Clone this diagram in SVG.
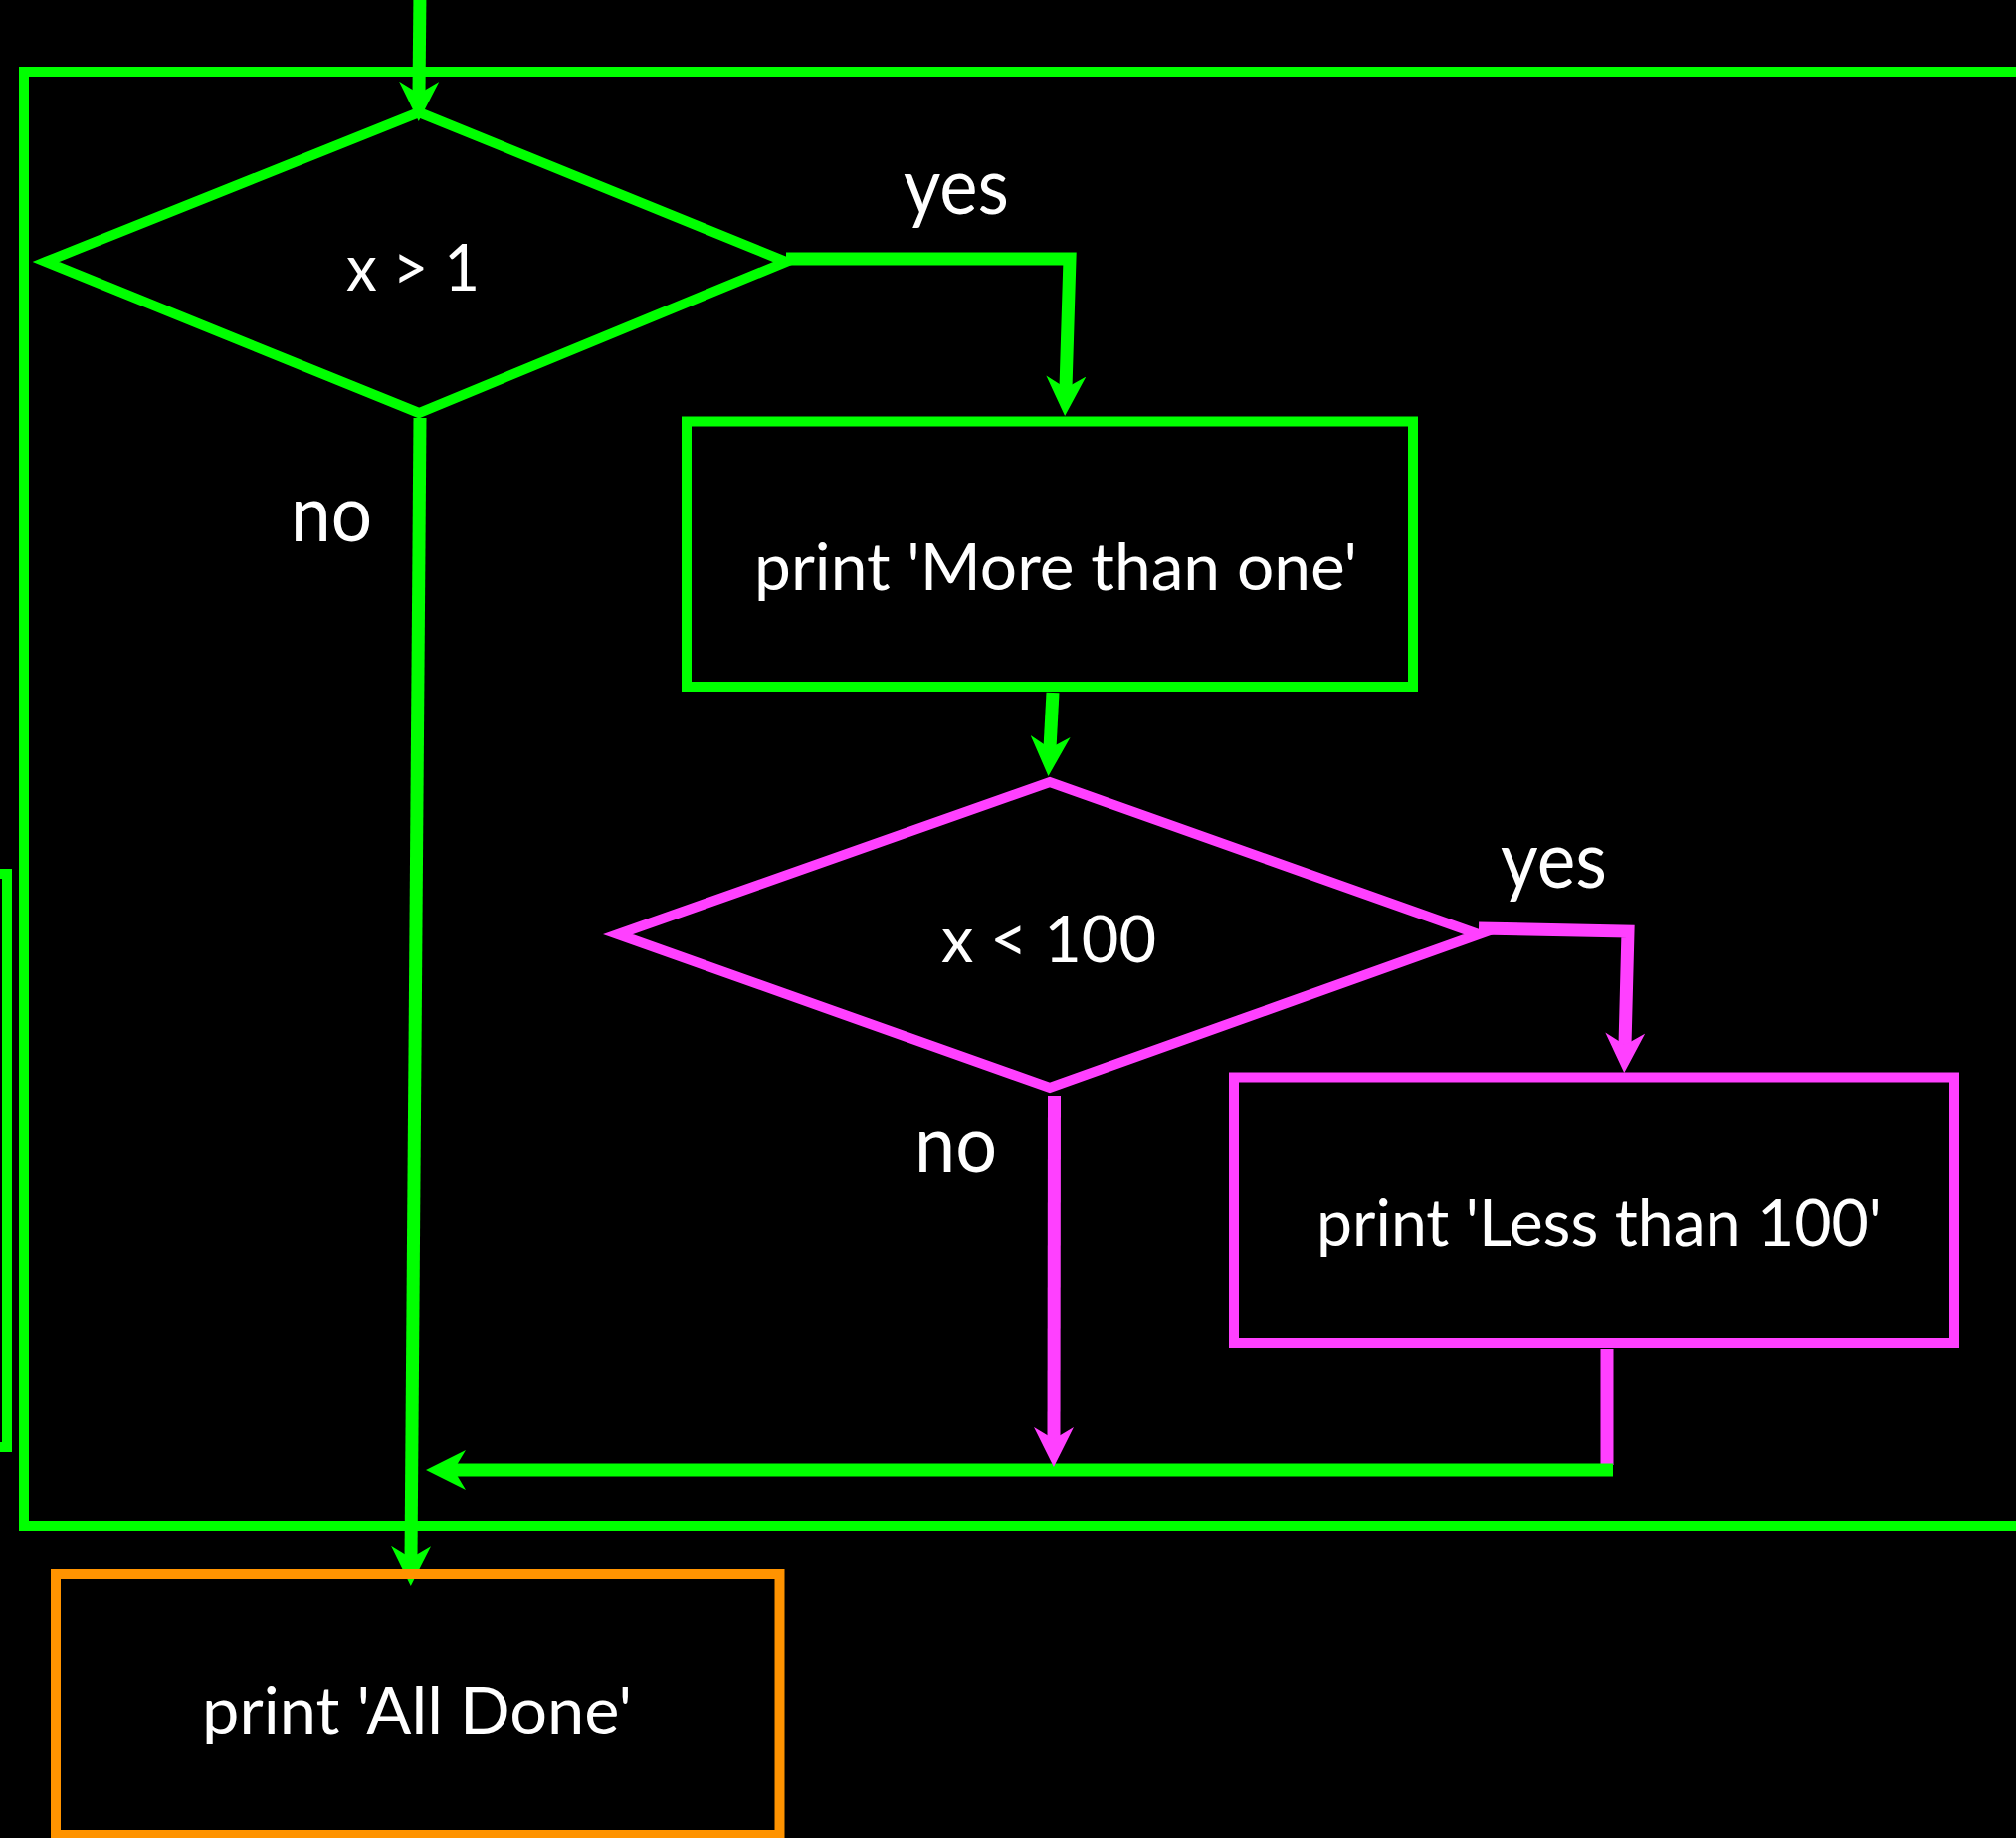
<svg xmlns="http://www.w3.org/2000/svg" width="2026" height="1847" viewBox="0 0 2026 1847">
<style>
  .bg { fill: #000000; }
  .g { stroke: #00ff00; }
  .m { stroke: #ff40ff; }
  .o { stroke: #ff9300; }
  .shape { fill: none; stroke-width: 10; stroke-linejoin: miter; stroke-miterlimit: 6; }
  .conn { fill: none; stroke-width: 13; stroke-linejoin: miter; stroke-linecap: butt; }
  .lbl { fill: #ffffff; font-family: Lato, "Open Sans", "Liberation Sans", sans-serif; }
  .t { font-size: 65px; }
  .yn { font-size: 80px; }
</style>
<defs>
  <marker id="ag" viewBox="-12 -20 40 40" markerWidth="40" markerHeight="40" refX="0" refY="0" markerUnits="userSpaceOnUse" orient="auto">
    <path d="M28,0 L-12,-20 L0,0 L-12,20 Z" fill="#00ff00"/>
  </marker>
  <marker id="am" viewBox="-12 -20 40 40" markerWidth="40" markerHeight="40" refX="0" refY="0" markerUnits="userSpaceOnUse" orient="auto">
    <path d="M28,0 L-12,-20 L0,0 L-12,20 Z" fill="#ff40ff"/>
  </marker>
</defs>
<rect class="bg" x="0" y="0" width="2026" height="1847"/>

<g id="frames">
  <rect id="outer-loop-frame" class="shape g" x="-300" y="878" width="307" height="576"/>
  <rect id="if-frame" class="shape g" x="24" y="72" width="2100" height="1461"/>
</g>

<g id="connectors">
  <polyline class="conn g" points="422,-10 421,94" marker-end="url(#ag)"/>
  <polyline class="conn g" points="790,260 1075,260 1071,390" marker-end="url(#ag)"/>
  <polyline class="conn g" points="1058,696 1055,752" marker-end="url(#ag)"/>
  <polyline class="conn g" points="422,420 413,1566" marker-end="url(#ag)"/>
  <polyline class="conn m" points="1486,933 1636,936 1633,1050" marker-end="url(#am)"/>
  <polyline class="conn m" points="1615,1356 1615,1472"/>
  <polyline class="conn g" points="1621,1477 456,1477" marker-end="url(#ag)"/>
  <polyline class="conn m" points="1059.5,1101 1059,1446" marker-end="url(#am)"/>
</g>

<g id="decision-x-gt-1">
  <polygon class="shape g" points="46,263 421,113 790,263 421,415"/>
  <text class="lbl t" x="348" y="292" textLength="134" lengthAdjust="spacingAndGlyphs">x &gt; 1</text>
</g>
<g id="label-yes-1">
  <text class="lbl yn" x="908" y="215" textLength="106" lengthAdjust="spacingAndGlyphs">yes</text>
</g>
<g id="label-no-1">
  <text class="lbl yn" x="292" y="544" textLength="82" lengthAdjust="spacingAndGlyphs">no</text>
</g>

<g id="box-more-than-one">
  <rect class="shape g" x="690" y="423.5" width="730" height="266.5"/>
  <text class="lbl t" x="758" y="593" textLength="606" lengthAdjust="spacingAndGlyphs">print 'More than one'</text>
</g>

<g id="decision-x-lt-100">
  <polygon class="shape m" points="621,939 1055,786 1486,939 1055,1093"/>
  <text class="lbl t" x="946" y="967" textLength="216" lengthAdjust="spacingAndGlyphs">x &lt; 100</text>
</g>
<g id="label-yes-2">
  <text class="lbl yn" x="1508" y="892" textLength="107" lengthAdjust="spacingAndGlyphs">yes</text>
</g>
<g id="label-no-2">
  <text class="lbl yn" x="919" y="1178" textLength="83" lengthAdjust="spacingAndGlyphs">no</text>
</g>

<g id="box-less-than-100">
  <rect class="shape m" x="1240" y="1082.5" width="724" height="267.5"/>
  <text class="lbl t" x="1323" y="1252" textLength="568" lengthAdjust="spacingAndGlyphs">print 'Less than 100'</text>
</g>

<g id="box-all-done">
  <rect class="shape o" x="56" y="1582" width="727.5" height="262"/>
  <text class="lbl t" x="203" y="1742" textLength="432" lengthAdjust="spacingAndGlyphs">print 'All Done'</text>
</g>
</svg>
